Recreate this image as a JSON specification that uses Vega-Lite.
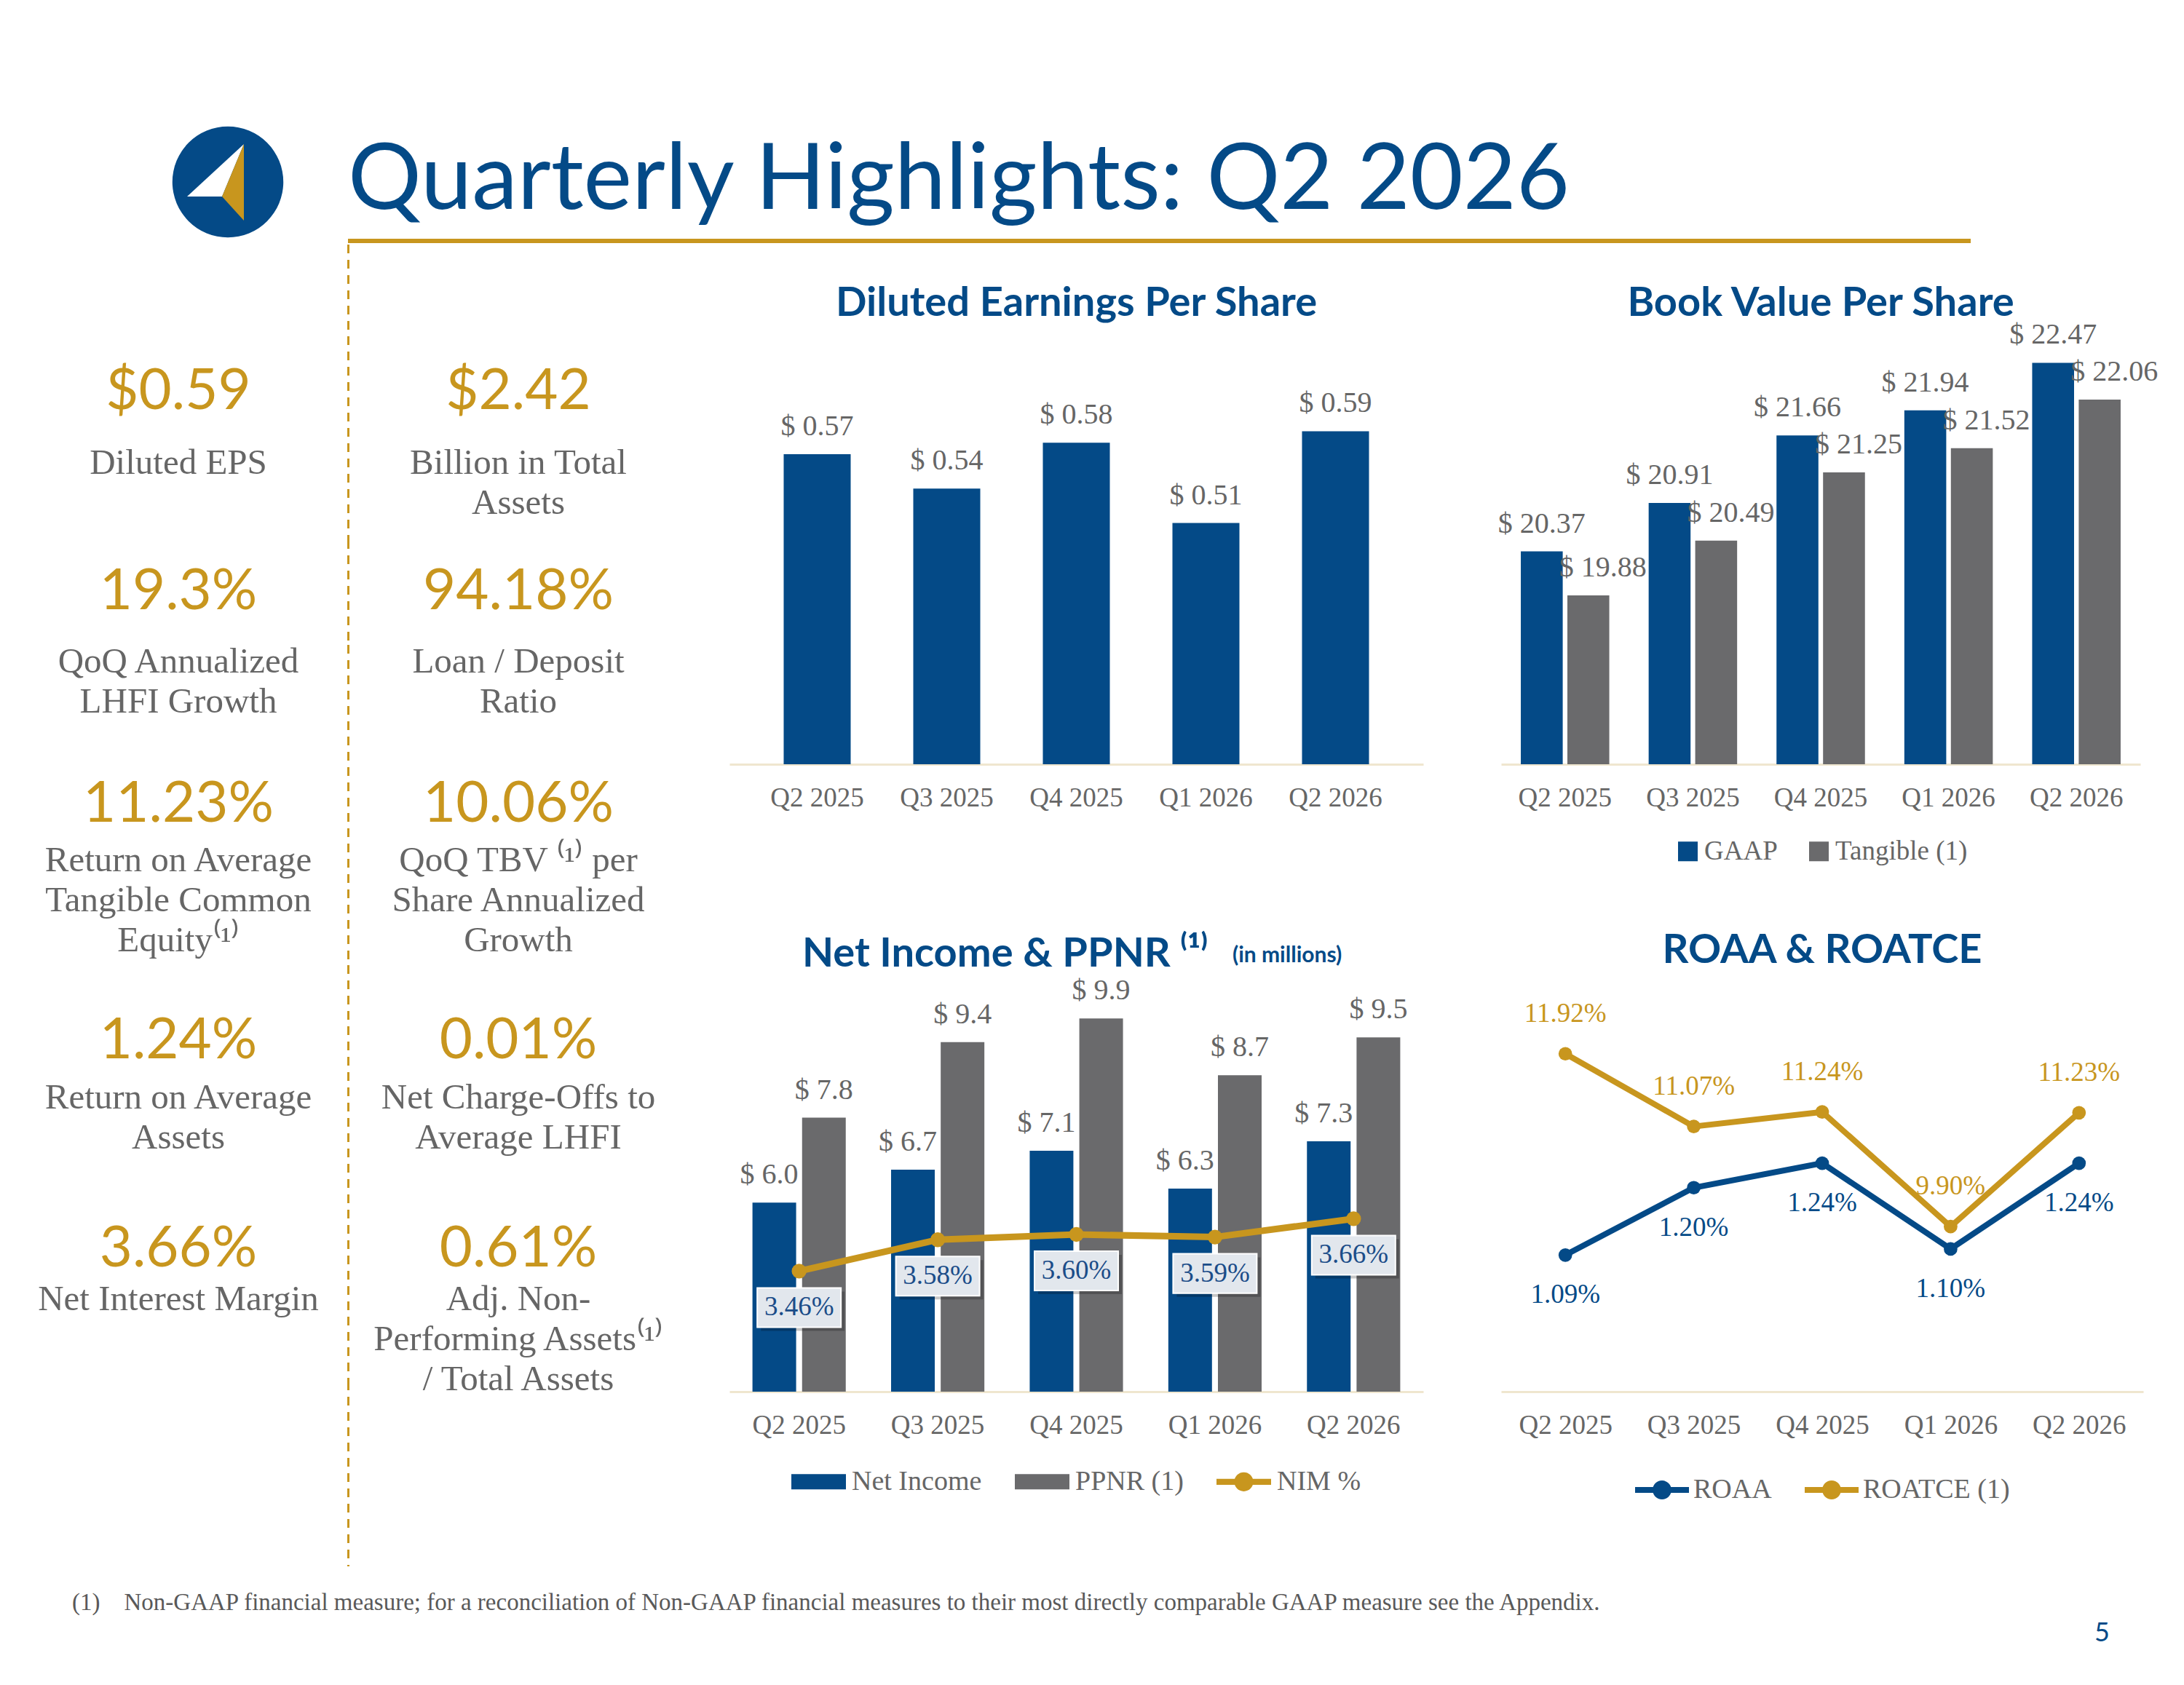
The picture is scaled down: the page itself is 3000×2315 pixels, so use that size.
{
  "$schema": "https://vega.github.io/schema/vega-lite/v6.json",
  "padding": 0,
  "background": "white",
  "spacing": 0,
  "config": {"view": {"stroke": null}, "font": "Liberation Serif", "legend": {"layout": {"anchor": "middle"}}},
  "resolve": {"scale": {"color": "independent", "xOffset": "independent"}, "legend": {"color": "independent"}},
  "datasets": {
    "eps": [
      {"quarter": "Q2 2025", "eps": 0.57},
      {"quarter": "Q3 2025", "eps": 0.54},
      {"quarter": "Q4 2025", "eps": 0.58},
      {"quarter": "Q1 2026", "eps": 0.51},
      {"quarter": "Q2 2026", "eps": 0.59}
    ],
    "bv": [
      {"quarter": "Q2 2025", "series": "GAAP", "bv": 20.37},
      {"quarter": "Q2 2025", "series": "Tangible (1)", "bv": 19.88},
      {"quarter": "Q3 2025", "series": "GAAP", "bv": 20.91},
      {"quarter": "Q3 2025", "series": "Tangible (1)", "bv": 20.49},
      {"quarter": "Q4 2025", "series": "GAAP", "bv": 21.66},
      {"quarter": "Q4 2025", "series": "Tangible (1)", "bv": 21.25},
      {"quarter": "Q1 2026", "series": "GAAP", "bv": 21.94},
      {"quarter": "Q1 2026", "series": "Tangible (1)", "bv": 21.52},
      {"quarter": "Q2 2026", "series": "GAAP", "bv": 22.47},
      {"quarter": "Q2 2026", "series": "Tangible (1)", "bv": 22.06}
    ],
    "ni": [
      {"quarter": "Q2 2025", "series": "Net Income", "amount": 6.0},
      {"quarter": "Q2 2025", "series": "PPNR (1)", "amount": 7.8},
      {"quarter": "Q3 2025", "series": "Net Income", "amount": 6.7},
      {"quarter": "Q3 2025", "series": "PPNR (1)", "amount": 9.4},
      {"quarter": "Q4 2025", "series": "Net Income", "amount": 7.1},
      {"quarter": "Q4 2025", "series": "PPNR (1)", "amount": 9.9},
      {"quarter": "Q1 2026", "series": "Net Income", "amount": 6.3},
      {"quarter": "Q1 2026", "series": "PPNR (1)", "amount": 8.7},
      {"quarter": "Q2 2026", "series": "Net Income", "amount": 7.3},
      {"quarter": "Q2 2026", "series": "PPNR (1)", "amount": 9.5}
    ],
    "nim": [
      {"quarter": "Q2 2025", "nim": 3.46},
      {"quarter": "Q3 2025", "nim": 3.58},
      {"quarter": "Q4 2025", "nim": 3.60},
      {"quarter": "Q1 2026", "nim": 3.59},
      {"quarter": "Q2 2026", "nim": 3.66}
    ],
    "ret": [
      {"quarter": "Q2 2025", "series": "ROAA", "pct": 1.09},
      {"quarter": "Q2 2025", "series": "ROATCE (1)", "pct": 11.92},
      {"quarter": "Q3 2025", "series": "ROAA", "pct": 1.20},
      {"quarter": "Q3 2025", "series": "ROATCE (1)", "pct": 11.07},
      {"quarter": "Q4 2025", "series": "ROAA", "pct": 1.24},
      {"quarter": "Q4 2025", "series": "ROATCE (1)", "pct": 11.24},
      {"quarter": "Q1 2026", "series": "ROAA", "pct": 1.10},
      {"quarter": "Q1 2026", "series": "ROATCE (1)", "pct": 9.90},
      {"quarter": "Q2 2026", "series": "ROAA", "pct": 1.24},
      {"quarter": "Q2 2026", "series": "ROATCE (1)", "pct": 11.23}
    ],
    "kpi": [
      {"tier": 1, "col": "A", "value": "$0.59", "label": "Diluted EPS"},
      {"tier": 1, "col": "B", "value": "$2.42", "label": "Billion in Total\nAssets"},
      {"tier": 2, "col": "A", "value": "19.3%", "label": "QoQ Annualized\nLHFI Growth"},
      {"tier": 2, "col": "B", "value": "94.18%", "label": "Loan / Deposit\nRatio"},
      {"tier": 3, "col": "A", "value": "11.23%", "label": "Return on Average\nTangible Common\nEquity⁽¹⁾"},
      {"tier": 3, "col": "B", "value": "10.06%", "label": "QoQ TBV ⁽¹⁾ per\nShare Annualized\nGrowth"},
      {"tier": 4, "col": "A", "value": "1.24%", "label": "Return on Average\nAssets"},
      {"tier": 4, "col": "B", "value": "0.01%", "label": "Net Charge-Offs to\nAverage LHFI"},
      {"tier": 5, "col": "A", "value": "3.66%", "label": "Net Interest Margin"},
      {"tier": 5, "col": "B", "value": "0.61%", "label": "Adj. Non-\nPerforming Assets⁽¹⁾\n/ Total Assets"}
    ]
  },
  "vconcat": [
    {
      "hconcat": [
        {
          "width": 478,
          "height": 331,
          "data": {"values": [{}]},
          "layer": [
            {"mark": {"type": "point", "shape": "circle", "filled": true, "size": 23235, "color": "#044a87", "opacity": 1, "strokeWidth": 0, "xOffset": 74, "yOffset": 84.5}, "encoding": {}},
            {"mark": {"type": "point", "shape": "M-0.56,0.2L0.22,-0.52L-0.08,0.2Z", "filled": true, "size": 40000, "color": "#ffffff", "opacity": 1, "strokeWidth": 0, "xOffset": 74, "yOffset": 84.5}, "encoding": {}},
            {"mark": {"type": "point", "shape": "M0.22,-0.52L-0.08,0.2L0.22,0.53Z", "filled": true, "size": 40000, "color": "#c8961e", "opacity": 1, "strokeWidth": 0, "xOffset": 74, "yOffset": 84.5}, "encoding": {}}
          ]
        },
        {
          "width": 2229,
          "height": 331,
          "data": {"values": [{}]},
          "encoding": {
            "y": {"datum": 0, "type": "quantitative", "scale": {"domain": [0, 1]}, "axis": null}
          },
          "layer": [
            {"mark": {"type": "rule", "color": "#c8961e", "strokeWidth": 6}},
            {"mark": {"type": "text", "text": "Quarterly Highlights: Q2 2026", "align": "left", "baseline": "alphabetic", "dy": -44, "font": "Lato", "fontSize": 126, "color": "#044a87"},
             "encoding": {"x": {"datum": 0, "type": "quantitative", "scale": {"domain": [0, 1]}, "axis": null}}}
          ]
        }
      ],
      "spacing": 0,
      "bounds": "flush"
    },
    {
      "hconcat": [
        {
          "vconcat": [
            {
              "width": 957, "height": 406,
              "data": {"name": "kpi"},
              "transform": [{"filter": "datum.tier === 1"}],
              "encoding": {"x": {"field": "col", "type": "nominal", "scale": {"type": "band", "domain": ["A", "B"], "paddingInner": 0, "paddingOuter": 0.0246, "align": 0.5}, "axis": null}},
              "layer": [
                {"mark": {"type": "text", "font": "Lato", "fontSize": 78, "color": "#c8961e", "baseline": "middle"}, "encoding": {"text": {"field": "value"}}},
                {"mark": {"type": "text", "font": "Liberation Serif", "fontSize": 49, "color": "#666666", "baseline": "alphabetic", "lineBreak": "\n", "lineHeight": 55, "dy": 112}, "encoding": {"text": {"field": "label"}}},
                {"data": {"values": [{}]}, "mark": {"type": "rule", "color": "#c8961e", "strokeWidth": 3, "strokeDash": [12, 9]}, "encoding": {"x": {"datum": "B", "type": "nominal", "bandPosition": 0}}}
              ]
            },
            {
              "width": 957, "height": 144,
              "data": {"name": "kpi"},
              "transform": [{"filter": "datum.tier === 2"}],
              "encoding": {"x": {"field": "col", "type": "nominal", "scale": {"type": "band", "domain": ["A", "B"], "paddingInner": 0, "paddingOuter": 0.0246, "align": 0.5}, "axis": null}},
              "layer": [
                {"mark": {"type": "text", "font": "Lato", "fontSize": 78, "color": "#c8961e", "baseline": "middle"}, "encoding": {"text": {"field": "value"}}},
                {"mark": {"type": "text", "font": "Liberation Serif", "fontSize": 49, "color": "#666666", "baseline": "alphabetic", "lineBreak": "\n", "lineHeight": 55, "dy": 110}, "encoding": {"text": {"field": "label"}}},
                {"data": {"values": [{}]}, "mark": {"type": "rule", "color": "#c8961e", "strokeWidth": 3, "strokeDash": [12, 9]}, "encoding": {"x": {"datum": "B", "type": "nominal", "bandPosition": 0}}}
              ]
            },
            {
              "width": 957, "height": 440,
              "data": {"name": "kpi"},
              "transform": [{"filter": "datum.tier === 3"}],
              "encoding": {"x": {"field": "col", "type": "nominal", "scale": {"type": "band", "domain": ["A", "B"], "paddingInner": 0, "paddingOuter": 0.0246, "align": 0.5}, "axis": null}},
              "layer": [
                {"mark": {"type": "text", "font": "Lato", "fontSize": 78, "color": "#c8961e", "baseline": "middle"}, "encoding": {"text": {"field": "value"}}},
                {"mark": {"type": "text", "font": "Liberation Serif", "fontSize": 49, "color": "#666666", "baseline": "alphabetic", "lineBreak": "\n", "lineHeight": 55, "dy": 91}, "encoding": {"text": {"field": "label"}}},
                {"data": {"values": [{}]}, "mark": {"type": "rule", "color": "#c8961e", "strokeWidth": 3, "strokeDash": [12, 9]}, "encoding": {"x": {"datum": "B", "type": "nominal", "bandPosition": 0}}}
              ]
            },
            {
              "width": 957, "height": 210,
              "data": {"name": "kpi"},
              "transform": [{"filter": "datum.tier === 4"}],
              "encoding": {"x": {"field": "col", "type": "nominal", "scale": {"type": "band", "domain": ["A", "B"], "paddingInner": 0, "paddingOuter": 0.0246, "align": 0.5}, "axis": null}},
              "layer": [
                {"mark": {"type": "text", "font": "Lato", "fontSize": 78, "color": "#c8961e", "baseline": "middle"}, "encoding": {"text": {"field": "value"}}},
                {"mark": {"type": "text", "font": "Liberation Serif", "fontSize": 49, "color": "#666666", "baseline": "alphabetic", "lineBreak": "\n", "lineHeight": 55, "dy": 92}, "encoding": {"text": {"field": "label"}}},
                {"data": {"values": [{}]}, "mark": {"type": "rule", "color": "#c8961e", "strokeWidth": 3, "strokeDash": [12, 9]}, "encoding": {"x": {"datum": "B", "type": "nominal", "bandPosition": 0}}}
              ]
            },
            {
              "width": 957, "height": 362,
              "data": {"name": "kpi"},
              "transform": [{"filter": "datum.tier === 5"}],
              "encoding": {"x": {"field": "col", "type": "nominal", "scale": {"type": "band", "domain": ["A", "B"], "paddingInner": 0, "paddingOuter": 0.0246, "align": 0.5}, "axis": null}},
              "layer": [
                {"mark": {"type": "text", "font": "Lato", "fontSize": 78, "color": "#c8961e", "baseline": "middle"}, "encoding": {"text": {"field": "value"}}},
                {"mark": {"type": "text", "font": "Liberation Serif", "fontSize": 49, "color": "#666666", "baseline": "alphabetic", "lineBreak": "\n", "lineHeight": 55, "dy": 83}, "encoding": {"text": {"field": "label"}}},
                {"data": {"values": [{}]}, "mark": {"type": "rule", "color": "#c8961e", "strokeWidth": 3, "strokeDash": [12, 9]}, "encoding": {"x": {"datum": "B", "type": "nominal", "bandPosition": 0}}}
              ]
            },
            {
              "width": 957, "height": 254,
              "data": {"values": [{}]},
              "mark": {"type": "rule", "color": "#c8961e", "strokeWidth": 3, "strokeDash": [12, 9]},
              "encoding": {"x": {"datum": "B", "type": "nominal", "bandPosition": 0, "scale": {"type": "band", "domain": ["A", "B"], "paddingInner": 0, "paddingOuter": 0.0246, "align": 0.5}, "axis": null}}
            }
          ],
          "spacing": 0,
          "bounds": "flush"
        },
        {
          "concat": [
            {"width": 1, "height": 97, "data": {"values": []}, "mark": "point", "encoding": {}},
            {"width": 1, "height": 97, "data": {"values": []}, "mark": "point", "encoding": {}},
            {
              "width": 953, "height": 617,
              "title": {"text": "Diluted Earnings Per Share", "font": "Lato", "fontSize": 56, "fontWeight": "bold", "color": "#044a87", "anchor": "middle", "frame": "group", "offset": -57, "baseline": "alphabetic"},
              "data": {"name": "eps"},
              "transform": [{"calculate": "'$ ' + format(datum.eps, '.2f')", "as": "eps_label"}],
              "encoding": {
                "x": {"field": "quarter", "type": "nominal", "scale": {"type": "band", "domain": ["Q2 2025", "Q3 2025", "Q4 2025", "Q1 2026", "Q2 2026"], "paddingInner": 0.483, "paddingOuter": 0.4185},
                      "axis": {"title": null, "labelFont": "Liberation Serif", "labelFontSize": 37, "labelColor": "#666666", "ticks": false, "tickSize": 0, "domainColor": "#efe6cf", "domainWidth": 3, "labelPadding": 28, "labelAngle": 0, "grid": false}},
                "y": {"field": "eps", "type": "quantitative", "scale": {"domain": [0.3, 0.691], "nice": false, "zero": false, "clamp": true}, "axis": null}
              },
              "layer": [
                {"mark": {"type": "bar", "color": "#044a87"}},
                {"mark": {"type": "text", "font": "Liberation Serif", "fontSize": 40, "color": "#666666", "baseline": "alphabetic", "dy": -26}, "encoding": {"text": {"field": "eps_label"}}}
              ]
            },
            {
              "width": 878, "height": 617,
              "title": {"text": "Book Value Per Share", "font": "Lato", "fontSize": 56, "fontWeight": "bold", "color": "#044a87", "anchor": "middle", "frame": "group", "offset": -57, "baseline": "alphabetic"},
              "data": {"name": "bv"},
              "transform": [{"calculate": "'$ ' + format(datum.bv, '.2f')", "as": "bv_label"}],
              "encoding": {
                "x": {"field": "quarter", "type": "nominal", "scale": {"type": "band", "domain": ["Q2 2025", "Q3 2025", "Q4 2025", "Q1 2026", "Q2 2026"], "paddingInner": 0.308, "paddingOuter": 0.154},
                      "axis": {"title": null, "labelFont": "Liberation Serif", "labelFontSize": 37, "labelColor": "#666666", "ticks": false, "tickSize": 0, "domainColor": "#efe6cf", "domainWidth": 3, "labelPadding": 28, "labelAngle": 0, "grid": false}},
                "xOffset": {"field": "series", "type": "nominal", "scale": {"type": "band", "domain": ["GAAP", "Tangible (1)"], "paddingInner": 0.1, "paddingOuter": 0}},
                "y": {"field": "bv", "type": "quantitative", "scale": {"domain": [18, 23], "nice": false, "zero": false, "clamp": true}, "axis": null}
              },
              "layer": [
                {
                  "mark": {"type": "bar"},
                  "encoding": {
                    "color": {"field": "series", "type": "nominal", "scale": {"domain": ["GAAP", "Tangible (1)"], "range": ["#044a87", "#6a6a6c"]},
                      "legend": {"title": null, "orient": "bottom", "direction": "horizontal", "offset": 37, "symbolType": "square", "symbolSize": 729, "symbolStrokeWidth": 0,
                        "labelFont": "Liberation Serif", "labelFontSize": 37, "labelColor": "#666666", "labelOffset": 4, "labelLimit": 0, "columnPadding": 38}}
                  }
                },
                {
                  "transform": [{"filter": "datum.series === 'GAAP'"}],
                  "mark": {"type": "text", "font": "Liberation Serif", "fontSize": 40, "color": "#666666", "baseline": "alphabetic", "dy": -26},
                  "encoding": {"text": {"field": "bv_label"}}
                },
                {
                  "transform": [{"filter": "datum.series !== 'GAAP'"}],
                  "mark": {"type": "text", "font": "Liberation Serif", "fontSize": 40, "color": "#666666", "baseline": "alphabetic", "dy": -26, "dx": 20},
                  "encoding": {"text": {"field": "bv_label"}}
                }
              ]
            },
            {"width": 1, "height": 272, "data": {"values": []}, "mark": "point", "encoding": {}},
            {"width": 1, "height": 272, "data": {"values": []}, "mark": "point", "encoding": {}},
            {
              "width": 953, "height": 590,
              "title": {"text": "Net Income & PPNR ⁽¹⁾", "font": "Lato", "fontSize": 56, "fontWeight": "bold", "color": "#044a87", "anchor": "start", "frame": "group", "offset": -86, "baseline": "alphabetic", "dx": 100},
              "encoding": {
                "x": {"field": "quarter", "type": "nominal", "scale": {"type": "band", "domain": ["Q2 2025", "Q3 2025", "Q4 2025", "Q1 2026", "Q2 2026"], "paddingInner": 0.327, "paddingOuter": 0.166},
                      "axis": {"title": null, "labelFont": "Liberation Serif", "labelFontSize": 37, "labelColor": "#666666", "ticks": false, "tickSize": 0, "domainColor": "#efe6cf", "domainWidth": 3, "labelPadding": 28, "labelAngle": 0, "grid": false}}
              },
              "resolve": {"scale": {"y": "independent"}},
              "layer": [
                {
                  "data": {"name": "ni"},
                  "transform": [{"calculate": "'$ ' + format(datum.amount, '.1f')", "as": "amount_label"}],
                  "encoding": {
                    "xOffset": {"field": "series", "type": "nominal", "scale": {"type": "band", "domain": ["Net Income", "PPNR (1)"], "paddingInner": 0.12, "paddingOuter": 0}},
                    "y": {"field": "amount", "type": "quantitative", "scale": {"domain": [2, 11.09], "nice": false, "zero": false, "clamp": true}, "axis": null}
                  },
                  "layer": [
                    {
                      "mark": {"type": "bar"},
                      "encoding": {
                        "color": {"field": "series", "type": "nominal", "scale": {"domain": ["Net Income", "PPNR (1)", "NIM %"], "range": ["#044a87", "#6a6a6c", "#c8961e"]},
                          "legend": {"title": null, "orient": "bottom", "direction": "horizontal", "offset": 22, "symbolSize": 5625, "symbolType": "square",
                            "labelFont": "Liberation Serif", "labelFontSize": 38, "labelColor": "#666666", "labelOffset": 8, "labelLimit": 0, "columnPadding": 45,
                            "encode": {"symbols": {"update": {
                              "shape": {"signal": "datum.value === 'NIM %' ? 'M-1,-0.11H1V0.11H-1Z M0.35,0A0.35,0.35 0 1,1 -0.35,0A0.35,0.35 0 1,1 0.35,0Z' : 'M-1,-0.28H1V0.28H-1Z'"},
                              "fill": {"signal": "datum.value === 'NIM %' ? '#c8961e' : (datum.value === 'Net Income' ? '#044a87' : '#6a6a6c')"},
                              "stroke": {"value": "transparent"},
                              "strokeWidth": {"value": 0},
                              "opacity": {"value": 1}
                            }}}}}
                      }
                    },
                    {
                      "transform": [{"filter": "datum.series === 'Net Income'"}],
                      "mark": {"type": "text", "font": "Liberation Serif", "fontSize": 40, "color": "#666666", "baseline": "alphabetic", "dy": -26, "dx": -7},
                      "encoding": {"text": {"field": "amount_label"}}
                    },
                    {
                      "transform": [{"filter": "datum.series !== 'Net Income'"}],
                      "mark": {"type": "text", "font": "Liberation Serif", "fontSize": 40, "color": "#666666", "baseline": "alphabetic", "dy": -26},
                      "encoding": {"text": {"field": "amount_label"}}
                    }
                  ]
                },
                {
                  "data": {"name": "nim"},
                  "transform": [{"calculate": "format(datum.nim, '.2f') + '%'", "as": "nim_label"}],
                  "encoding": {
                    "y": {"field": "nim", "type": "quantitative", "scale": {"domain": [3, 4.639], "nice": false, "zero": false}, "axis": null}
                  },
                  "layer": [
                    {"mark": {"type": "line", "strokeWidth": 9}, "encoding": {"color": {"datum": "NIM %"}}},
                    {"mark": {"type": "point", "filled": true, "size": 415, "opacity": 1}, "encoding": {"color": {"datum": "NIM %"}}},
                    {"mark": {"type": "point", "shape": "M-1,-0.47H1V0.47H-1Z", "size": 13225, "filled": true, "color": "#000000", "opacity": 0.22, "strokeWidth": 0, "xOffset": 5, "yOffset": 55}},
                    {"mark": {"type": "point", "shape": "M-1,-0.47H1V0.47H-1Z", "size": 13225, "filled": true, "fill": "#e2e7ed", "stroke": "#ffffff", "strokeWidth": 2, "opacity": 1, "yOffset": 50}},
                    {"mark": {"type": "text", "font": "Liberation Serif", "fontSize": 37, "color": "#1b4d89", "baseline": "middle", "dy": 50}, "encoding": {"text": {"field": "nim_label"}}}
                  ]
                },
                {
                  "data": {"values": [{}]},
                  "mark": {"type": "text", "text": "(in millions)", "font": "Lato", "fontWeight": "bold", "fontSize": 30, "color": "#044a87", "align": "left", "baseline": "alphabetic", "dx": 24},
                  "encoding": {
                    "x": {"datum": "Q1 2026", "type": "nominal"},
                    "y": {"datum": 1, "type": "quantitative", "scale": {"domain": [0, 1]}, "axis": null}
                  }
                }
              ]
            },
            {
              "width": 882, "height": 590,
              "title": {"text": "ROAA & ROATCE", "font": "Lato", "fontSize": 56, "fontWeight": "bold", "color": "#044a87", "anchor": "middle", "frame": "group", "offset": -57, "baseline": "alphabetic"},
              "data": {"name": "ret"},
              "transform": [{"calculate": "format(datum.pct, '.2f') + '%'", "as": "pct_label"}],
              "encoding": {
                "x": {"field": "quarter", "type": "nominal", "scale": {"type": "point", "domain": ["Q2 2025", "Q3 2025", "Q4 2025", "Q1 2026", "Q2 2026"], "padding": 0.5},
                      "axis": {"title": null, "labelFont": "Liberation Serif", "labelFontSize": 37, "labelColor": "#666666", "ticks": false, "tickSize": 0, "domainColor": "#efe6cf", "domainWidth": 3, "labelPadding": 28, "labelAngle": 0, "grid": false}},
                "color": {"field": "series", "type": "nominal", "scale": {"domain": ["ROAA", "ROATCE (1)"], "range": ["#044a87", "#c8961e"]},
                  "legend": {"title": null, "orient": "bottom", "direction": "horizontal", "offset": 34,
                    "symbolType": "M-1,-0.11H1V0.11H-1Z M0.35,0A0.35,0.35 0 1,1 -0.35,0A0.35,0.35 0 1,1 0.35,0Z", "symbolSize": 5476,
                    "labelFont": "Liberation Serif", "labelFontSize": 38, "labelColor": "#666666", "labelOffset": 6, "labelLimit": 0, "columnPadding": 45,
                    "encode": {"symbols": {"update": {
                      "fill": {"signal": "datum.value === 'ROAA' ? '#044a87' : '#c8961e'"},
                      "stroke": {"value": "transparent"},
                      "strokeWidth": {"value": 0},
                      "opacity": {"value": 1}
                    }}}}}
              },
              "resolve": {"scale": {"y": "independent"}},
              "layer": [
                {
                  "transform": [{"filter": "datum.series === 'ROATCE (1)'"}],
                  "encoding": {"y": {"field": "pct", "type": "quantitative", "scale": {"domain": [7.97, 12.99], "nice": false, "zero": false}, "axis": null}},
                  "layer": [
                    {"mark": {"type": "line", "strokeWidth": 8}},
                    {"mark": {"type": "point", "filled": true, "size": 350, "opacity": 1}},
                    {"mark": {"type": "text", "font": "Liberation Serif", "fontSize": 37, "baseline": "alphabetic", "dy": -44}, "encoding": {"text": {"field": "pct_label"}}}
                  ]
                },
                {
                  "transform": [{"filter": "datum.series === 'ROAA'"}],
                  "encoding": {"y": {"field": "pct", "type": "quantitative", "scale": {"domain": [0.867, 1.568], "nice": false, "zero": false}, "axis": null}},
                  "layer": [
                    {"mark": {"type": "line", "strokeWidth": 8}},
                    {"mark": {"type": "point", "filled": true, "size": 350, "opacity": 1}},
                    {"mark": {"type": "text", "font": "Liberation Serif", "fontSize": 37, "baseline": "alphabetic", "dy": 66}, "encoding": {"text": {"field": "pct_label"}}}
                  ]
                }
              ]
            }
          ],
          "columns": 2,
          "spacing": {"row": 0, "column": 107},
          "bounds": "flush",
          "align": "each",
          "resolve": {"scale": {"color": "independent", "xOffset": "independent"}, "legend": {"color": "independent"}}
        }
      ],
      "spacing": 45,
      "resolve": {"scale": {"color": "independent", "xOffset": "independent"}, "legend": {"color": "independent"}}
    },
    {
      "width": 2898,
      "height": 96,
      "data": {"values": [{}]},
      "layer": [
        {"mark": {"type": "text", "text": "(1)\u00a0\u00a0\u00a0\u00a0Non-GAAP financial measure; for a reconciliation of Non-GAAP financial measures to their most directly comparable GAAP measure see the Appendix.", "align": "left", "baseline": "middle", "font": "Liberation Serif", "fontSize": 33, "color": "#595959", "dx": 99},
         "encoding": {"x": {"datum": 0, "type": "quantitative", "scale": {"domain": [0, 1]}, "axis": null}}},
        {"mark": {"type": "text", "text": "5", "align": "right", "baseline": "middle", "font": "Lato", "fontSize": 36, "color": "#044a87", "dy": 42},
         "encoding": {"x": {"datum": 1, "type": "quantitative", "scale": {"domain": [0, 1]}, "axis": null}}}
      ]
    }
  ]
}
